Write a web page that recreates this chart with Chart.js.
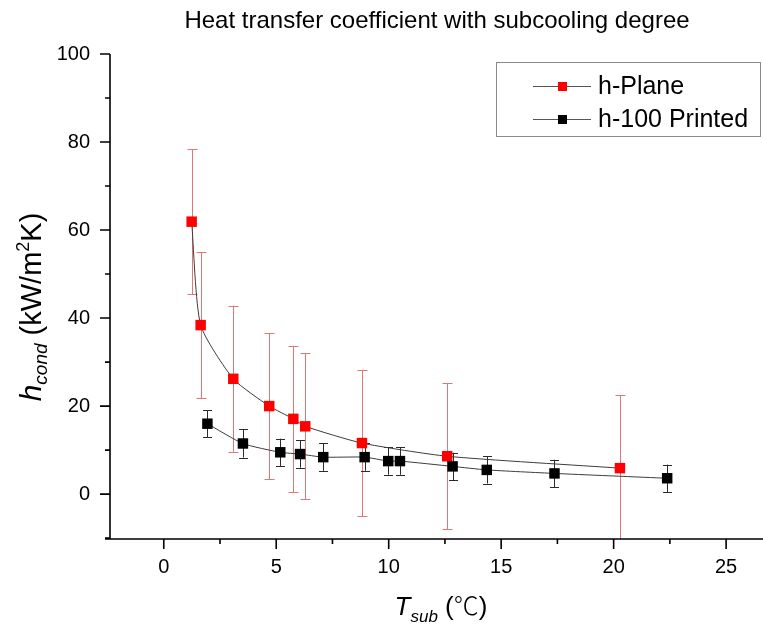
<!DOCTYPE html>
<html>
<head>
<meta charset="utf-8">
<script src="https://cdn.jsdelivr.net/npm/chart.js@4/dist/chart.umd.min.js"></script>
<style>
  html, body { margin: 0; padding: 0; background: #fff; }
  #wrap { width: 763px; height: 630px; }
</style>
</head>
<body>
<div id="wrap"><canvas id="chart" width="763" height="630"></canvas></div>
<script>
// Subcooling degree (°C) and condensation heat transfer coefficient (kW/m²K)
const planeT = [1.24, 1.64, 3.09, 4.69, 5.76, 6.29, 8.81, 12.6, 20.28];
const planeH = [61.9, 38.4, 26.2, 20.0, 17.1, 15.4, 11.6, 8.6, 5.9];
const planeErr = [16.5, 16.6, 16.6, 16.6, 16.6, 16.6, 16.6, 16.6, 16.6];

const printedT = [1.94, 3.52, 5.18, 6.06, 7.09, 8.93, 9.98, 10.5, 12.84, 14.36, 17.37, 22.38];
const printedH = [16.0, 11.5, 9.5, 9.1, 8.4, 8.4, 7.5, 7.5, 6.3, 5.5, 4.7, 3.6];
const printedErr = [3.1, 3.2, 3.1, 3.1, 3.1, 3.1, 3.1, 3.1, 3.1, 3.1, 3.1, 3.1];

const seriesNames = ['h-Plane', 'h-100 Printed'];
const xTicks = [0, 5, 10, 15, 20, 25];
const yTicks = [0, 20, 40, 60, 80, 100];
const chartTitle = 'Heat transfer coefficient with subcooling degree';

const SANS = '"Liberation Sans", Arial, sans-serif';

function toPoints(xs, ys) {
  return xs.map((x, i) => ({ x: x, y: ys[i] }));
}

// midpoints between major ticks, plus one step beyond each end
function minorTicks(major) {
  const step = major[1] - major[0];
  const out = [major[0] - step / 2];
  for (let i = 0; i < major.length - 1; i++) out.push((major[i] + major[i + 1]) / 2);
  out.push(major[major.length - 1] + step / 2);
  return out;
}

// draws a run of text pieces (italic, subscript, superscript) side by side
function drawRich(ctx, parts, x, y) {
  let total = 0;
  parts.forEach(p => { ctx.font = p.font; p.w = ctx.measureText(p.t).width; total += p.w; });
  let cx = x - total / 2;
  ctx.textAlign = 'left';
  ctx.textBaseline = 'alphabetic';
  parts.forEach(p => { ctx.font = p.font; ctx.fillText(p.t, cx, y + (p.dy || 0)); cx += p.w; });
}

const errorBarPlugin = {
  id: 'errorBars',
  beforeDatasetsDraw(chart) {
    const { ctx, chartArea, scales: { x, y } } = chart;
    ctx.save();
    ctx.beginPath();
    ctx.rect(chartArea.left, chartArea.top, chartArea.right - chartArea.left, chartArea.bottom - chartArea.top);
    ctx.clip();
    chart.data.datasets.forEach(ds => {
      ctx.strokeStyle = ds.errorColor;
      ctx.lineWidth = 1;
      ds.data.forEach((p, i) => {
        const e = ds.errors[i];
        const px = Math.round(x.getPixelForValue(p.x)) + 0.5;
        const top = y.getPixelForValue(p.y + e);
        const bot = y.getPixelForValue(p.y - e);
        ctx.beginPath();
        ctx.moveTo(px, top); ctx.lineTo(px, bot);
        ctx.moveTo(px - ds.capHalf, Math.round(top) + 0.5); ctx.lineTo(px + ds.capHalf, Math.round(top) + 0.5);
        ctx.moveTo(px - ds.capHalf, Math.round(bot) + 0.5); ctx.lineTo(px + ds.capHalf, Math.round(bot) + 0.5);
        ctx.stroke();
      });
    });
    ctx.restore();
  }
};

const decorPlugin = {
  id: 'decor',
  afterDraw(chart) {
    const { ctx, chartArea: a, scales: { x, y } } = chart;
    ctx.save();
    ctx.strokeStyle = '#000';
    ctx.fillStyle = '#000';
    ctx.lineWidth = 1.6;

    // axis lines
    ctx.beginPath();
    ctx.moveTo(a.left, a.top);
    ctx.lineTo(a.left, a.bottom);
    ctx.moveTo(a.left - 5, a.bottom);
    ctx.lineTo(a.right, a.bottom);
    ctx.stroke();

    // tick marks (outward)
    ctx.beginPath();
    xTicks.forEach(v => { const px = x.getPixelForValue(v); ctx.moveTo(px, a.bottom); ctx.lineTo(px, a.bottom + 10); });
    minorTicks(xTicks).forEach(v => {
      const px = x.getPixelForValue(v);
      if (px >= a.left && px <= a.right) { ctx.moveTo(px, a.bottom); ctx.lineTo(px, a.bottom + 5); }
    });
    yTicks.forEach(v => { const py = y.getPixelForValue(v); ctx.moveTo(a.left, py); ctx.lineTo(a.left - 10, py); });
    minorTicks(yTicks).forEach(v => {
      const py = y.getPixelForValue(v);
      if (py >= a.top && py <= a.bottom) { ctx.moveTo(a.left, py); ctx.lineTo(a.left - 5, py); }
    });
    ctx.stroke();

    // title
    ctx.font = '24px ' + SANS;
    ctx.textAlign = 'center';
    ctx.textBaseline = 'alphabetic';
    ctx.fillText(chartTitle, 437, 28);

    // x axis title: T_sub (℃)
    drawRich(ctx, [
      { t: 'T', font: 'italic 26px ' + SANS },
      { t: 'sub', font: 'italic 17px ' + SANS, dy: 7 },
      { t: ' (', font: '26px ' + SANS },
      { t: '\u2103', font: '300 25px "Noto Sans CJK SC", sans-serif' },
      { t: ')', font: '26px ' + SANS }
    ], 441, 615);

    // y axis title: h_cond (kW/m²K)
    ctx.save();
    ctx.translate(41, 307);
    ctx.rotate(-Math.PI / 2);
    drawRich(ctx, [
      { t: 'h', font: 'italic 30px ' + SANS },
      { t: 'cond', font: 'italic 19px ' + SANS, dy: 6 },
      { t: ' (kW/m', font: '29px ' + SANS },
      { t: '2', font: '18px ' + SANS, dy: -12 },
      { t: 'K)', font: '29px ' + SANS }
    ], 0, 0);
    ctx.restore();

    // legend
    const bx = 496.5, by = 62.5, bw = 264, bh = 74;
    ctx.lineWidth = 1;
    ctx.strokeStyle = '#8a8a8a';
    ctx.strokeRect(bx, by, bw, bh);
    const rows = [86, 119];
    chart.data.datasets.slice().sort((p, q) => p.legendRank - q.legendRank).forEach((ds, i) => {
      const ry = rows[i];
      ctx.strokeStyle = '#555';
      ctx.lineWidth = 1;
      ctx.beginPath();
      ctx.moveTo(533, ry + 0.5); ctx.lineTo(591, ry + 0.5);
      ctx.stroke();
      ctx.fillStyle = ds.pointBackgroundColor;
      ctx.fillRect(558, ry - 4, 9, 9);
      ctx.fillStyle = '#000';
      ctx.font = '25px ' + SANS;
      ctx.textAlign = 'left';
      ctx.textBaseline = 'middle';
      ctx.fillText(ds.label, 598, ry + 1);
    });
    ctx.restore();
  }
};

const tickFont = { family: SANS, size: 20 };

new Chart(document.getElementById('chart'), {
  type: 'line',
  data: {
    datasets: [
      {
        label: seriesNames[0],
        legendRank: 0,
        data: toPoints(planeT, planeH),
        errors: planeErr,
        errorColor: '#e07676',
        capHalf: 5,
        borderColor: '#3c3c3c',
        borderWidth: 1,
        pointStyle: 'rect',
        pointRadius: 7.4,
        pointBackgroundColor: '#ff0000',
        pointBorderColor: '#ff0000',
        pointBorderWidth: 0,
        tension: 0.2,
        order: 2
      },
      {
        label: seriesNames[1],
        legendRank: 1,
        data: toPoints(printedT, printedH),
        errors: printedErr,
        errorColor: '#2a2a2a',
        capHalf: 4.5,
        borderColor: '#3c3c3c',
        borderWidth: 1,
        pointStyle: 'rect',
        pointRadius: 7.4,
        pointBackgroundColor: '#000000',
        pointBorderColor: '#000000',
        pointBorderWidth: 0,
        tension: 0.2,
        order: 1
      }
    ]
  },
  options: {
    responsive: false,
    devicePixelRatio: 1,
    animation: false,
    events: [],
    layout: { autoPadding: false, padding: { top: 54, right: 0, bottom: 0, left: 0 } },
    plugins: { legend: { display: false }, title: { display: false }, tooltip: { enabled: false } },
    scales: {
      x: {
        type: 'linear',
        min: -2.39,
        max: 26.64,
        afterBuildTicks: s => { s.ticks = xTicks.map(v => ({ value: v })); },
        afterFit: s => { s.height = 91; s.paddingLeft = 0; s.paddingRight = 0; },
        ticks: { font: tickFont, color: '#000', padding: 16, maxRotation: 0, autoSkip: false },
        grid: { display: false, drawTicks: false },
        border: { display: false }
      },
      y: {
        type: 'linear',
        min: -10.2,
        max: 100,
        afterBuildTicks: s => { s.ticks = yTicks.map(v => ({ value: v })); },
        afterFit: s => { s.width = 110; s.paddingTop = 0; s.paddingBottom = 0; },
        ticks: { font: tickFont, color: '#000', padding: 20, autoSkip: false },
        grid: { display: false, drawTicks: false },
        border: { display: false }
      }
    }
  },
  plugins: [errorBarPlugin, decorPlugin]
});
</script>
</body>
</html>
